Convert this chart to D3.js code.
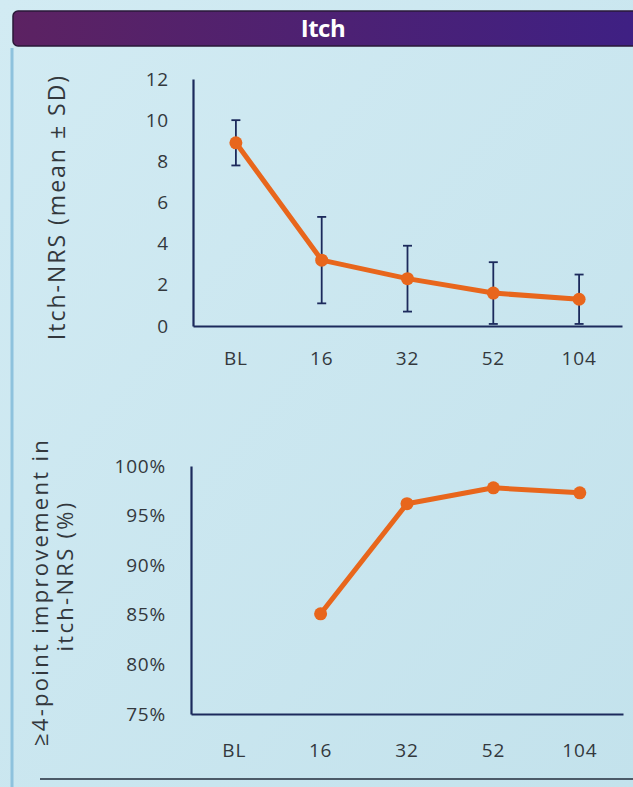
<!DOCTYPE html>
<html>
<head>
<meta charset="utf-8">
<script src="https://cdn.jsdelivr.net/npm/d3@7"></script>
<style>
  html, body { margin: 0; padding: 0; background: #c7e4ee; }
  svg { display: block; }
</style>
</head>
<body>
<script>
// Weeks of treatment
const weeks = ["BL", "16", "32", "52", "104"];

// Itch-NRS mean and standard deviation per visit
const nrsMean = [8.9, 3.2, 2.3, 1.6, 1.3];
const nrsSD   = [1.1, 2.1, 1.6, 1.5, 1.2];
const nrsTicks = [0, 2, 4, 6, 8, 10, 12];

// Share of patients with >=4-point improvement (no value at baseline)
const improveWeeks = ["16", "32", "52", "104"];
const improvePct   = [85.1, 96.2, 97.8, 97.3];
const pctTicks = [75, 80, 85, 90, 95, 100];

const W = 633, H = 787;
const orange = "#e8661c";
const navy = "#1c2a5c";
const textCol = "#33383d";
const font = "'Open Sans', 'Noto Sans', sans-serif";

const svg = d3.select("body").append("svg")
  .attr("width", W).attr("height", H);

const defs = svg.append("defs");
const grad = defs.append("linearGradient").attr("id", "hdr")
  .attr("x1", "0%").attr("x2", "100%");
grad.append("stop").attr("offset", "0%").attr("stop-color", "#5c2262");
grad.append("stop").attr("offset", "100%").attr("stop-color", "#3e2084");

const bg = defs.append("linearGradient").attr("id", "bg")
  .attr("x1", "0%").attr("y1", "0%").attr("x2", "100%").attr("y2", "100%");
bg.append("stop").attr("offset", "0%").attr("stop-color", "#d2ebf3");
bg.append("stop").attr("offset", "100%").attr("stop-color", "#c3e2ec");

svg.append("rect").attr("width", W).attr("height", H).attr("fill", "url(#bg)");

// Header band
svg.append("rect")
  .attr("x", 13).attr("y", 11).attr("width", W).attr("height", 35)
  .attr("rx", 5)
  .attr("fill", "url(#hdr)")
  .attr("stroke", "#2a1838").attr("stroke-width", 1.5);
svg.append("text")
  .attr("x", 323).attr("y", 37)
  .attr("text-anchor", "middle")
  .attr("font-family", font).attr("font-weight", 700)
  .attr("font-size", 24).attr("letter-spacing", -0.5).attr("fill", "#ffffff")
  .text("Itch");

// Panel frame
svg.append("line").attr("x1", 12).attr("x2", 12).attr("y1", 48).attr("y2", H)
  .attr("stroke", "#8ec2dd").attr("stroke-width", 3);
svg.append("line").attr("x1", 40).attr("x2", W).attr("y1", 779).attr("y2", 779)
  .attr("stroke", "#4b5a68").attr("stroke-width", 2);

function styleAxis(g) {
  g.select(".domain").attr("stroke", navy).attr("stroke-width", 2.2);
  g.selectAll(".tick line").remove();
  g.selectAll("text")
    .attr("font-family", font).attr("font-size", 19)
    .attr("letter-spacing", 0.8).attr("fill", textCol);
}

// ---------- Upper panel: Itch-NRS over time ----------
const upper = { left: 193, right: 622, top: 79, bottom: 326 };
const x1 = d3.scaleBand().domain(weeks).range([upper.left, upper.right]);
const y1 = d3.scaleLinear().domain([0, 12]).range([upper.bottom, upper.top]);

const gTop = svg.append("g");
gTop.append("g")
  .attr("transform", `translate(${upper.left},0)`)
  .call(d3.axisLeft(y1).tickValues(nrsTicks).tickSize(0).tickPadding(24).tickSizeOuter(0))
  .call(styleAxis);
gTop.append("g")
  .attr("transform", `translate(0,${upper.bottom})`)
  .call(d3.axisBottom(x1).tickSize(0).tickPadding(26).tickSizeOuter(0))
  .call(styleAxis);

const topData = weeks.map((w, i) => ({ w, m: nrsMean[i], sd: nrsSD[i] }));
const cx1 = d => x1(d.w) + x1.bandwidth() / 2;

// Error bars (clipped at zero)
const eb = gTop.append("g").attr("stroke", navy).attr("stroke-width", 1.8);
topData.forEach(d => {
  const hi = y1(d.m + d.sd), lo = y1(Math.max(0, d.m - d.sd));
  const x = cx1(d);
  eb.append("line").attr("x1", x).attr("x2", x).attr("y1", hi).attr("y2", lo);
  eb.append("line").attr("x1", x - 4.5).attr("x2", x + 4.5).attr("y1", hi).attr("y2", hi);
  if (d.m - d.sd > 0)
    eb.append("line").attr("x1", x - 4.5).attr("x2", x + 4.5).attr("y1", lo).attr("y2", lo);
});

gTop.append("path")
  .datum(topData)
  .attr("fill", "none").attr("stroke", orange).attr("stroke-width", 5)
  .attr("stroke-linejoin", "round")
  .attr("d", d3.line().x(cx1).y(d => y1(d.m)));
gTop.selectAll("circle").data(topData).join("circle")
  .attr("cx", cx1).attr("cy", d => y1(d.m)).attr("r", 6.5)
  .attr("fill", orange);

gTop.append("text")
  .attr("transform", `translate(65,207) rotate(-90)`)
  .attr("text-anchor", "middle")
  .attr("font-family", font).attr("font-size", 23)
  .attr("letter-spacing", 2).attr("fill", textCol)
  .text("Itch-NRS (mean ± SD)");

// ---------- Lower panel: responders ----------
const lower = { left: 191, right: 623, top: 466, bottom: 714 };
const x2 = d3.scaleBand().domain(weeks).range([lower.left, lower.right]);
const y2 = d3.scaleLinear().domain([75, 100]).range([lower.bottom, lower.top]);

const gBot = svg.append("g");
gBot.append("g")
  .attr("transform", `translate(${lower.left},0)`)
  .call(d3.axisLeft(y2).tickValues(pctTicks).tickFormat(d => d + "%")
    .tickSize(0).tickPadding(25).tickSizeOuter(0))
  .call(styleAxis);
gBot.append("g")
  .attr("transform", `translate(0,${lower.bottom})`)
  .call(d3.axisBottom(x2).tickSize(0).tickPadding(30).tickSizeOuter(0))
  .call(styleAxis);

const botData = improveWeeks.map((w, i) => ({ w, v: improvePct[i] }));
const cx2 = d => x2(d.w) + x2.bandwidth() / 2;

gBot.append("path")
  .datum(botData)
  .attr("fill", "none").attr("stroke", orange).attr("stroke-width", 5)
  .attr("stroke-linejoin", "round")
  .attr("d", d3.line().x(cx2).y(d => y2(d.v)));
gBot.selectAll("circle").data(botData).join("circle")
  .attr("cx", cx2).attr("cy", d => y2(d.v)).attr("r", 6.5)
  .attr("fill", orange);

const lbl = gBot.append("text")
  .attr("transform", `translate(0,588) rotate(-90)`)
  .attr("text-anchor", "middle")
  .attr("font-family", font).attr("font-size", 22)
  .attr("letter-spacing", 2.3).attr("fill", textCol);
lbl.append("tspan").attr("x", -4).attr("y", 48).text("≥4-point improvement in");
lbl.append("tspan").attr("x", 12).attr("y", 73).text("itch-NRS  (%)");
</script>
</body>
</html>
